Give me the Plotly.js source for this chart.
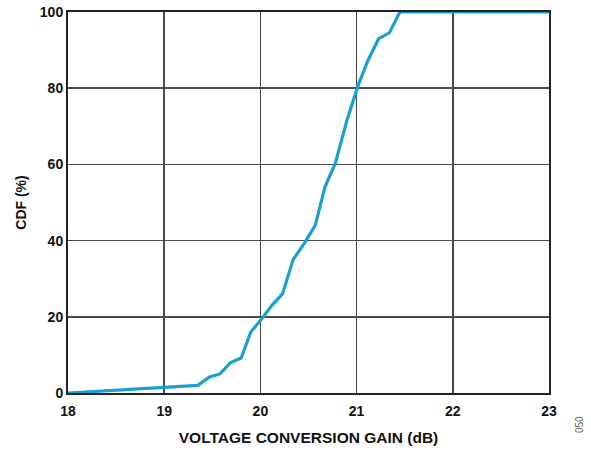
<!DOCTYPE html>
<html><head><meta charset="utf-8">
<script src="https://cdn.plot.ly/plotly-3.0.1.min.js"></script>
<style>body{margin:0;padding:0;background:#fff}#chart{width:591px;height:450px}</style>
</head><body><div id="chart"></div>
<script>
const gainDb = [18.0, 19.35, 19.47, 19.58, 19.69, 19.80, 19.90, 20.0, 20.12, 20.23, 20.34, 20.46, 20.57, 20.67, 20.78, 20.90, 21.02, 21.12, 21.23, 21.34, 21.45, 23.0];
const cdfPct = [0, 2, 4.2, 5, 8, 9.2, 16, 19, 23, 26, 35, 39.4, 44, 54, 60.4, 71.6, 81, 87.4, 93, 94.5, 100, 100];
const xTicks = [18, 19, 20, 21, 22, 23];
const yTicks = [0, 20, 40, 60, 80, 100];

const tickFont = {family: 'Liberation Sans, Arial, sans-serif', size: 14, color: '#111', weight: 'bold'};
const titleFont = {family: 'Liberation Sans, Arial, sans-serif', size: 15.5, color: '#111', weight: 'bold'};
Plotly.newPlot('chart', [{
  x: gainDb, y: cdfPct, type: 'scatter', mode: 'lines',
  line: {color: '#1a9fd4', width: 3.2}, hoverinfo: 'skip'
}], {
  width: 591, height: 450,
  margin: {l: 68, r: 42, t: 12, b: 57},
  paper_bgcolor: '#fff', plot_bgcolor: '#fff',
  showlegend: false,
  xaxis: {
    range: [18, 23], tickvals: xTicks, ticktext: xTicks.map(String),
    showgrid: true, gridcolor: '#4a4a4a', gridwidth: 1.5,
    showline: true, linecolor: '#222', linewidth: 2, mirror: true,
    zeroline: false, ticks: '', tickfont: tickFont, ticklabelstandoff: 4,
    title: {text: 'VOLTAGE CONVERSION GAIN (dB)', font: titleFont, standoff: 14}
  },
  yaxis: {
    range: [0, 100], tickvals: yTicks, ticktext: yTicks.map(String),
    showgrid: true, gridcolor: '#4a4a4a', gridwidth: 1.5,
    showline: true, linecolor: '#222', linewidth: 2, mirror: true,
    zeroline: false, ticks: '', tickfont: tickFont,
    title: {text: 'CDF (%)', font: tickFont, standoff: 10}
  },
  annotations: [{
    text: '050', xref: 'paper', yref: 'paper', x: 1, y: 0,
    xshift: 38, yshift: -42, textangle: -90, showarrow: false,
    font: {family: 'Liberation Sans, Arial, sans-serif', size: 10, color: '#666'}
  }]
}, {staticPlot: true});
</script></body></html>
